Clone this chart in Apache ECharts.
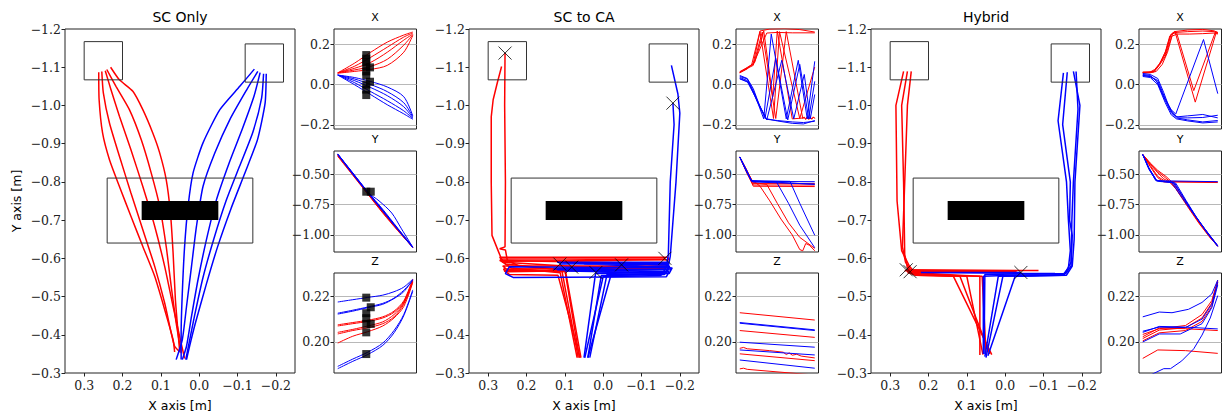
<!DOCTYPE html>
<html><head><meta charset="utf-8">
<script src="https://cdn.jsdelivr.net/npm/echarts@6/dist/echarts.min.js"></script>
<style>html,body{margin:0;padding:0;background:#fff}#c{width:1224px;height:416px}</style>
</head><body><div id="c"></div>
<script>
// ---------------- labels & ticks ----------------
const panelTitles = ['SC Only', 'SC to CA', 'Hybrid'];
const smallTitles = ['X', 'Y', 'Z'];
const xAxisName = 'X axis [m]';
const yAxisName = 'Y axis [m]';
const mainXTicks = [0.3, 0.2, 0.1, 0.0, -0.1, -0.2];
const mainYTicks = [-1.2, -1.1, -1.0, -0.9, -0.8, -0.7, -0.6, -0.5, -0.4, -0.3];
const smallXTicks = [-0.2, 0.0, 0.2];
const smallYTicks = [-1.0, -0.75, -0.5];
const smallZTicks = [0.20, 0.22];

// ---------------- scene boxes [x1,y1,x2,y2] ----------------
const outlineBoxes = [[0.3, -1.167, 0.2, -1.067], [-0.12, -1.161, -0.22, -1.061], [0.24, -0.81, -0.14, -0.64]];
const obstacleBox = [[0.15, -0.75, -0.05, -0.70]];

// ---------------- SC Only : main (x,y) ----------------
const scOnlyRed = [
  [[0.064,-0.355],[0.068,-0.387],[0.090,-0.466],[0.116,-0.553],[0.147,-0.631],[0.178,-0.710],[0.208,-0.788],[0.234,-0.858],[0.252,-0.928],[0.261,-1.015],[0.262,-1.087]],
  [[0.050,-0.355],[0.064,-0.370],[0.073,-0.405],[0.090,-0.483],[0.116,-0.579],[0.147,-0.675],[0.178,-0.771],[0.208,-0.867],[0.234,-0.954],[0.250,-1.033],[0.254,-1.089]],
  [[0.038,-0.338],[0.051,-0.396],[0.068,-0.474],[0.090,-0.579],[0.116,-0.684],[0.147,-0.788],[0.178,-0.884],[0.208,-0.972],[0.230,-1.041],[0.245,-1.091]],
  [[0.047,-0.352],[0.060,-0.431],[0.073,-0.527],[0.086,-0.631],[0.103,-0.736],[0.125,-0.823],[0.151,-0.910],[0.182,-0.989],[0.217,-1.050],[0.241,-1.094]],
  [[0.051,-0.358],[0.055,-0.405],[0.062,-0.492],[0.068,-0.614],[0.075,-0.719],[0.086,-0.806],[0.103,-0.876],[0.121,-0.928],[0.147,-0.989],[0.173,-1.037],[0.208,-1.067],[0.231,-1.100]]
];
const scOnlyBlue = [
  [[0.047,-0.335],[0.047,-0.405],[0.044,-0.509],[0.038,-0.631],[0.029,-0.736],[0.016,-0.823],[-0.010,-0.902],[-0.054,-0.989],[-0.106,-1.050],[-0.144,-1.095]],
  [[0.060,-0.335],[0.044,-0.387],[0.033,-0.474],[0.020,-0.579],[0.007,-0.684],[-0.010,-0.788],[-0.041,-0.876],[-0.080,-0.963],[-0.124,-1.041],[-0.153,-1.089]],
  [[0.044,-0.335],[0.033,-0.370],[0.020,-0.448],[0.003,-0.544],[-0.019,-0.649],[-0.045,-0.753],[-0.078,-0.849],[-0.112,-0.937],[-0.143,-1.024],[-0.159,-1.086]],
  [[0.035,-0.335],[0.030,-0.360],[0.012,-0.450],[-0.010,-0.550],[-0.038,-0.650],[-0.070,-0.750],[-0.105,-0.840],[-0.140,-0.930],[-0.163,-1.020],[-0.168,-1.083]],
  [[0.033,-0.335],[0.025,-0.370],[0.010,-0.430],[-0.018,-0.530],[-0.048,-0.630],[-0.083,-0.730],[-0.118,-0.820],[-0.152,-0.910],[-0.172,-1.006],[-0.175,-1.083]]
];
// SC Only : small panels [t, value]
const scOnlyXRed = [
  [[0,0.058],[22,0.105],[44,0.160],[66,0.210],[88,0.245],[100,0.260]],
  [[0,0.058],[22,0.090],[44,0.135],[66,0.185],[88,0.235],[100,0.255]],
  [[0,0.058],[22,0.080],[44,0.110],[66,0.160],[88,0.220],[100,0.250]],
  [[0,0.058],[22,0.072],[44,0.090],[66,0.125],[88,0.195],[100,0.247]],
  [[0,0.056],[22,0.065],[44,0.075],[66,0.095],[88,0.160],[100,0.243]]
];
const scOnlyXBlue = [
  [[0,0.047],[22,0.000],[44,-0.050],[66,-0.100],[88,-0.145],[100,-0.172]],
  [[0,0.047],[22,0.010],[44,-0.035],[66,-0.080],[88,-0.130],[100,-0.168]],
  [[0,0.047],[22,0.020],[44,-0.015],[66,-0.055],[88,-0.110],[100,-0.165]],
  [[0,0.047],[22,0.028],[44,0.000],[66,-0.035],[88,-0.090],[100,-0.160]],
  [[0,0.047],[22,0.035],[44,0.015],[66,-0.012],[88,-0.060],[100,-0.155]]
];
const scOnlyYRed = [
  [[0,-0.345],[20,-0.500],[40,-0.655],[60,-0.805],[80,-0.955],[100,-1.100]],
  [[0,-0.350],[20,-0.505],[40,-0.660],[60,-0.815],[80,-0.960],[100,-1.105]],
  [[0,-0.340],[20,-0.495],[40,-0.650],[60,-0.800],[80,-0.950],[100,-1.100]],
  [[0,-0.355],[20,-0.510],[40,-0.665],[60,-0.820],[80,-0.965],[100,-1.100]],
  [[0,-0.345],[20,-0.500],[40,-0.660],[60,-0.810],[80,-0.960],[100,-1.100]]
];
const scOnlyYBlue = [
  [[0,-0.335],[20,-0.490],[40,-0.645],[60,-0.790],[80,-0.945],[100,-1.100]],
  [[0,-0.340],[20,-0.500],[40,-0.650],[55,-0.720],[72,-0.820],[85,-0.950],[100,-1.100]],
  [[0,-0.335],[20,-0.495],[40,-0.650],[60,-0.800],[80,-0.955],[100,-1.105]],
  [[0,-0.340],[20,-0.500],[40,-0.655],[60,-0.805],[80,-0.955],[100,-1.100]],
  [[0,-0.338],[20,-0.492],[40,-0.648],[60,-0.798],[80,-0.950],[100,-1.098]]
];
const scOnlyZRed = [
  [[0,0.2075],[20,0.2085],[40,0.2095],[60,0.2110],[75,0.2135],[88,0.2180],[100,0.2275]],
  [[0,0.2070],[20,0.2080],[40,0.2090],[60,0.2105],[75,0.2130],[88,0.2175],[100,0.2272]],
  [[0,0.2042],[20,0.2055],[40,0.2070],[60,0.2088],[75,0.2120],[88,0.2170],[100,0.2268]],
  [[0,0.2035],[20,0.2050],[40,0.2062],[60,0.2080],[75,0.2110],[88,0.2165],[100,0.2265]],
  [[0,0.1995],[20,0.2025],[40,0.2045],[60,0.2070],[75,0.2105],[88,0.2155],[100,0.2260]]
];
const scOnlyZBlue = [
  [[0,0.2175],[20,0.2185],[40,0.2195],[60,0.2205],[75,0.2220],[88,0.2240],[100,0.2275]],
  [[0,0.2122],[20,0.2135],[40,0.2150],[60,0.2165],[75,0.2190],[88,0.2220],[100,0.2272]],
  [[0,0.2126],[20,0.2139],[40,0.2153],[60,0.2169],[75,0.2192],[88,0.2226],[100,0.2270]],
  [[0,0.1893],[20,0.1925],[40,0.1955],[60,0.1995],[75,0.2050],[88,0.2120],[100,0.2228]],
  [[0,0.1883],[20,0.1915],[40,0.1945],[60,0.1985],[75,0.2040],[88,0.2115],[100,0.2222]]
];
const scOnlyXMarks = [[38,0.146],[38,0.128],[38,0.110],[38,0.090],[43,0.085],[38,0.065],[38,0.045],[43,0.014],[38,0.000],[38,-0.025],[38,-0.052]];
const scOnlyYMarks = [[38,-0.645],[44,-0.645]];
const scOnlyZMarks = [[38,0.2194],[44,0.2152],[38,0.2126],[38,0.2104],[44,0.2079],[38,0.2079],[38,0.2042],[38,0.1947]];

// ---------------- SC to CA ----------------
const scToCaRed = [
  [[0.068,-0.340],[0.112,-0.562],[0.240,-0.575],[0.262,-0.590],[0.272,-0.615],[0.290,-0.660],[0.292,-0.800],[0.292,-0.970],[0.287,-1.015],[0.276,-1.060],[0.265,-1.102]],
  [[0.062,-0.340],[0.100,-0.570],[0.220,-0.580],[0.250,-0.595],[0.255,-0.622],[0.270,-0.625],[0.256,-0.630],[0.255,-0.800],[0.257,-1.000],[0.256,-1.137]],
  [[0.058,-0.340],[0.098,-0.565],[0.250,-0.570],[0.262,-0.580],[-0.165,-0.580],[-0.170,-0.572],[0.255,-0.565],[0.260,-0.572],[-0.160,-0.575],[0.082,-0.577]],
  [[0.065,-0.340],[0.108,-0.570],[0.255,-0.585],[0.270,-0.603],[-0.168,-0.603],[-0.172,-0.596],[0.260,-0.592],[0.268,-0.598],[-0.160,-0.598],[-0.165,-0.594],[-0.158,-0.600],[-0.161,-0.600]],
  [[0.060,-0.340],[0.118,-0.556],[0.245,-0.558],[0.258,-0.568],[-0.060,-0.570],[0.262,-0.590],[0.270,-0.595],[0.130,-0.592],[-0.165,-0.587],[-0.165,-0.585]]
];
const scToCaBlue = [
  [[0.048,-0.340],[0.000,-0.552],[-0.150,-0.555],[-0.168,-0.570],[-0.175,-0.605],[-0.190,-0.800],[-0.200,-0.980],[-0.195,-1.030],[-0.178,-1.105]],
  [[0.040,-0.340],[-0.020,-0.555],[-0.155,-0.560],[-0.165,-0.580],[-0.170,-0.610],[-0.175,-0.800],[-0.185,-0.950],[-0.182,-1.006]],
  [[0.050,-0.340],[0.020,-0.560],[-0.165,-0.563],[-0.172,-0.575],[0.245,-0.578],[0.255,-0.560],[0.235,-0.550],[-0.165,-0.552],[-0.172,-0.565],[0.120,-0.570],[-0.168,-0.580],[-0.170,-0.588],[0.113,-0.585]],
  [[0.040,-0.340],[0.005,-0.555],[-0.160,-0.558],[-0.168,-0.570],[0.130,-0.572],[-0.172,-0.580],[-0.176,-0.570],[0.100,-0.567],[-0.168,-0.562],[0.019,-0.563]],
  [[0.035,-0.340],[-0.010,-0.558],[-0.172,-0.560],[-0.180,-0.575],[0.120,-0.590],[-0.170,-0.590],[0.050,-0.585],[-0.170,-0.584],[-0.048,-0.583]]
];
const scToCaCrosses = [[0.256,-1.137],[-0.182,-1.006],[0.113,-0.585],[0.082,-0.577],[0.019,-0.563],[-0.048,-0.583],[-0.161,-0.600]];
const scToCaXRed = [
  [[0,0.060],[8,0.075],[16,0.100],[27,0.265],[40,0.275],[60,0.277],[80,0.272],[100,0.260]],
  [[0,0.062],[10,0.085],[18,0.100],[36,0.255],[50,0.258],[70,0.256],[100,0.256]],
  [[0,0.058],[10,0.078],[18,0.105],[27,0.262],[45,-0.168],[53,0.262],[80,-0.168],[100,0.087]],
  [[0,0.064],[10,0.082],[20,0.110],[32,0.265],[44,-0.060],[50,0.265],[70,-0.170],[86,-0.165],[88,-0.172],[90,-0.160],[92,-0.172],[94,-0.160],[96,-0.172],[98,-0.160],[100,-0.168]],
  [[0,0.060],[10,0.080],[18,0.095],[30,0.260],[48,-0.168],[62,0.262],[84,-0.168],[86,-0.160],[88,-0.172],[90,-0.160],[92,-0.172],[94,-0.162],[96,-0.170],[98,-0.162],[100,-0.166]]
];
const scToCaXBlue = [
  [[0,0.045],[10,0.030],[18,-0.020],[26,-0.100],[34,-0.168],[50,-0.180],[70,-0.192],[85,-0.195],[100,-0.178]],
  [[0,0.040],[10,0.028],[18,-0.030],[28,-0.120],[36,-0.172],[50,-0.178],[70,-0.185],[85,-0.188],[100,-0.182]],
  [[0,0.035],[10,0.020],[20,-0.050],[32,-0.170],[42,0.250],[62,-0.170],[78,0.120],[90,-0.170],[100,0.115]],
  [[0,0.030],[10,0.015],[22,-0.070],[34,-0.160],[48,0.130],[64,-0.175],[80,0.100],[92,-0.170],[100,0.016]],
  [[0,0.028],[12,0.010],[24,-0.090],[36,-0.175],[56,0.120],[72,-0.170],[86,0.050],[94,-0.170],[100,-0.049]]
];
const scToCaYRed = [
  [[0,-0.360],[8,-0.450],[16,-0.550],[22,-0.575],[27,-0.600],[40,-0.720],[55,-0.870],[70,-1.000],[80,-1.120],[84,-1.130],[88,-1.070],[93,-1.085],[100,-1.130]],
  [[0,-0.360],[10,-0.480],[18,-0.570],[36,-0.585],[50,-0.740],[65,-0.900],[80,-1.020],[100,-1.110]],
  [[0,-0.360],[10,-0.500],[17,-0.577],[100,-0.577]],
  [[0,-0.360],[12,-0.520],[18,-0.600],[100,-0.603]],
  [[0,-0.360],[11,-0.500],[18,-0.590],[100,-0.590]]
];
const scToCaYBlue = [
  [[0,-0.360],[10,-0.480],[16,-0.560],[49,-0.565],[65,-0.740],[80,-0.920],[100,-1.105]],
  [[0,-0.360],[10,-0.490],[16,-0.555],[67,-0.560],[80,-0.740],[100,-1.003]],
  [[0,-0.360],[9,-0.470],[15,-0.555],[100,-0.585]],
  [[0,-0.360],[9,-0.480],[16,-0.560],[100,-0.563]],
  [[0,-0.360],[10,-0.490],[17,-0.565],[100,-0.583]]
];
const scToCaZRed = [
  [[0,0.2128],[100,0.2096]],
  [[0,0.2050],[100,0.2020]],
  [[0,0.1972],[5,0.1976],[10,0.1970],[40,0.1962],[58,0.1955],[62,0.1945],[66,0.1952],[70,0.1942],[76,0.1946],[82,0.1938],[100,0.1930]],
  [[0,0.1948],[100,0.1918]],
  [[0,0.1882],[5,0.1885],[10,0.1880],[100,0.1855]]
];
const scToCaZBlue = [
  [[0,0.2085],[100,0.2053]],
  [[0,0.2082],[100,0.2050]],
  [[0,0.1999],[100,0.1977]],
  [[0,0.1965],[100,0.1943]],
  [[0,0.1921],[100,0.1885]]
];

// ---------------- Hybrid ----------------
const hybridRed = [
  [[0.066,-0.347],[0.066,-0.553],[0.120,-0.556],[0.235,-0.562],[0.262,-0.568],[-0.087,-0.568],[0.258,-0.570]],
  [[0.035,-0.348],[0.135,-0.553],[0.235,-0.556],[0.255,-0.575],[0.262,-0.610],[0.265,-0.800],[0.270,-1.000],[0.255,-1.089]],
  [[0.050,-0.350],[0.060,-0.553],[0.230,-0.556],[0.250,-0.580],[0.270,-0.620],[0.282,-0.750],[0.285,-1.000],[0.265,-1.089]],
  [[0.058,-0.348],[0.100,-0.553],[0.240,-0.560],[0.260,-0.590],[0.268,-0.630],[0.262,-0.800],[0.255,-1.000],[0.245,-1.089]],
  [[0.040,-0.350],[0.118,-0.553],[0.240,-0.558],[0.255,-0.563],[-0.030,-0.565],[0.248,-0.565]]
];
const hybridBlue = [
  [[0.057,-0.350],[0.057,-0.553],[-0.130,-0.560],[0.220,-0.563],[-0.041,-0.563]],
  [[0.053,-0.343],[0.018,-0.553],[-0.150,-0.556],[-0.165,-0.575],[-0.170,-0.620],[-0.165,-0.700],[-0.160,-0.800],[-0.138,-0.960],[-0.152,-1.085]],
  [[0.050,-0.340],[0.006,-0.553],[-0.155,-0.558],[-0.172,-0.590],[-0.175,-0.660],[-0.168,-0.700],[-0.170,-0.800],[-0.150,-0.950],[-0.162,-1.087]],
  [[0.045,-0.345],[-0.026,-0.553],[-0.160,-0.556],[-0.175,-0.580],[-0.180,-0.650],[-0.182,-0.800],[-0.195,-1.000],[-0.178,-1.089]],
  [[0.055,-0.350],[0.053,-0.558],[-0.158,-0.560],[-0.172,-0.580],[-0.174,-0.700],[-0.178,-0.800],[-0.190,-0.990],[-0.185,-1.089]]
];
const hybridCrosses = [[0.258,-0.570],[0.248,-0.565],[-0.041,-0.563]];
const hybridXRed = [
  [[0,0.060],[8,0.062],[15,0.065],[22,0.100],[30,0.150],[38,0.250],[43,0.262],[70,-0.087],[98,0.258],[100,0.258]],
  [[0,0.060],[10,0.060],[16,0.070],[22,0.100],[30,0.160],[36,0.240],[42,0.262],[60,0.270],[80,0.273],[95,0.266],[100,0.258]],
  [[0,0.062],[10,0.062],[16,0.075],[24,0.110],[31,0.170],[37,0.245],[44,0.258],[60,0.262],[80,0.265],[95,0.262],[100,0.252]],
  [[0,0.058],[10,0.058],[18,0.065],[26,0.100],[33,0.160],[39,0.240],[46,0.250],[62,0.250],[80,0.252],[95,0.255],[100,0.250]],
  [[0,0.058],[8,0.060],[15,0.063],[22,0.095],[30,0.140],[40,0.255],[45,0.258],[68,-0.030],[97,0.262],[100,0.255]]
];
const hybridXBlue = [
  [[0,0.045],[10,0.040],[18,0.020],[28,-0.060],[38,-0.125],[44,-0.146],[81,0.223],[100,-0.045]],
  [[0,0.050],[10,0.045],[20,0.010],[30,-0.080],[38,-0.140],[45,-0.165],[60,-0.175],[80,-0.185],[100,-0.178]],
  [[0,0.040],[10,0.035],[20,0.000],[30,-0.090],[38,-0.150],[45,-0.170],[60,-0.180],[80,-0.190],[100,-0.185]],
  [[0,0.055],[10,0.050],[20,0.030],[28,-0.040],[36,-0.120],[45,-0.160],[60,-0.155],[80,-0.148],[100,-0.165]],
  [[0,0.045],[10,0.040],[20,0.020],[30,-0.070],[40,-0.145],[48,-0.165],[60,-0.165],[80,-0.163],[100,-0.152]]
];
const hybridYRed = [
  [[0,-0.340],[10,-0.440],[20,-0.530],[28,-0.565],[100,-0.570]],
  [[0,-0.340],[10,-0.410],[20,-0.470],[31,-0.520],[38,-0.560],[45,-0.610],[60,-0.750],[75,-0.890],[90,-1.010],[100,-1.090]],
  [[0,-0.340],[10,-0.415],[20,-0.480],[30,-0.530],[36,-0.560],[42,-0.600],[60,-0.760],[75,-0.900],[90,-1.020],[100,-1.095]],
  [[0,-0.340],[10,-0.420],[20,-0.490],[28,-0.540],[35,-0.562],[44,-0.620],[60,-0.770],[75,-0.905],[90,-1.025],[100,-1.090]],
  [[0,-0.340],[10,-0.430],[20,-0.520],[30,-0.560],[100,-0.565]]
];
const hybridYBlue = [
  [[0,-0.340],[8,-0.450],[18,-0.555],[100,-0.563]],
  [[0,-0.340],[8,-0.450],[18,-0.550],[24,-0.560],[40,-0.565],[55,-0.700],[70,-0.840],[85,-0.970],[100,-1.090]],
  [[0,-0.340],[8,-0.460],[18,-0.555],[24,-0.562],[42,-0.570],[56,-0.710],[70,-0.845],[85,-0.975],[100,-1.092]],
  [[0,-0.340],[9,-0.460],[19,-0.556],[26,-0.560],[44,-0.575],[58,-0.720],[72,-0.860],[86,-0.985],[100,-1.095]],
  [[0,-0.340],[8,-0.450],[17,-0.550],[25,-0.558],[38,-0.565],[52,-0.690],[68,-0.830],[84,-0.960],[100,-1.088]]
];
const hybridZRed = [
  [[0,0.2023],[22,0.2061],[57,0.2058],[100,0.2050]],
  [[0,0.2033],[22,0.2058],[57,0.2072],[79,0.2120],[92,0.2181],[100,0.2271]],
  [[0,0.2015],[22,0.2052],[57,0.2062],[79,0.2105],[92,0.2170],[100,0.2265]],
  [[0,0.2005],[22,0.2040],[57,0.2050],[79,0.2090],[92,0.2155],[100,0.2260]],
  [[0,0.1928],[20,0.1965],[57,0.1962],[100,0.1950]]
];
const hybridZBlue = [
  [[0,0.2042],[22,0.2068],[57,0.2065],[100,0.2057]],
  [[0,0.2110],[22,0.2131],[39,0.2128],[61,0.2143],[79,0.2173],[92,0.2210],[100,0.2271]],
  [[0,0.2047],[22,0.2065],[57,0.2063],[79,0.2100],[92,0.2165],[100,0.2262]],
  [[0,0.2000],[22,0.2035],[50,0.2035],[79,0.2080],[92,0.2150],[100,0.2250]],
  [[0,0.1835],[10,0.1855],[28,0.1883],[37,0.1883],[52,0.1917],[68,0.1970],[79,0.2030],[90,0.2105],[100,0.2203]]
];

// ---------------- build ----------------
const RED = '#ff0000', BLUE = '#0000ff', INK = '#222';
const tickFont = 'DejaVu Serif';
const textFont = 'DejaVu Sans';
function fmt(d) { return v => (v < -1e-9 ? '\u2212' : '') + Math.abs(v).toFixed(d); }

const option = { animation: false, backgroundColor: '#fff', grid: [], xAxis: [], yAxis: [], series: [], graphic: [] };

function addGrid(left, top, width, height) {
  option.grid.push({ left, top, width, height, show: true, borderColor: INK, borderWidth: 1 });
  return option.grid.length - 1;
}
function tickAxis(gi, min, max, ticks, dec, inverse, split, margin) {
  return {
    type: 'value', gridIndex: gi, min, max, inverse: !!inverse,
    axisLine: { show: false, onZero: false },
    axisTick: { show: true, inside: false, length: 3.5, customValues: ticks, lineStyle: { color: INK, width: 1 } },
    axisLabel: { customValues: ticks, formatter: fmt(dec), fontFamily: tickFont, fontSize: 12.5, color: INK, margin: margin || 4 },
    splitLine: { show: !!split, lineStyle: { color: '#b8b8b8', width: 1 } }
  };
}
function addLines(trajs, color, gi, width, smooth) {
  trajs.forEach(d => option.series.push({
    type: 'line', xAxisIndex: gi, yAxisIndex: gi, data: d, showSymbol: false, symbol: 'none',
    smooth: smooth || false, lineStyle: { color, width }, itemStyle: { color }, z: 2, silent: true
  }));
}
function addRects(rects, gi, filled) {
  option.series.push({
    type: 'custom', xAxisIndex: gi, yAxisIndex: gi, data: rects, z: 5, silent: true,
    renderItem: (p, api) => {
      const a = api.coord([api.value(0), api.value(1)]);
      const b = api.coord([api.value(2), api.value(3)]);
      return { type: 'rect', shape: { x: Math.min(a[0], b[0]), y: Math.min(a[1], b[1]), width: Math.abs(a[0] - b[0]), height: Math.abs(a[1] - b[1]) },
        style: filled ? { fill: '#000' } : { fill: 'none', stroke: '#333', lineWidth: 1 } };
    }
  });
}
function addMarks(pts, gi, kind) {
  const cross = kind === 'cross';
  option.series.push({
    type: 'scatter', xAxisIndex: gi, yAxisIndex: gi, data: pts, z: 6, silent: true,
    symbol: cross ? 'path://M0,0L10,10M10,0L0,10' : 'rect', symbolSize: cross ? 13 : 8,
    itemStyle: cross ? { color: 'none', borderColor: '#000', borderWidth: 1 } : { color: '#000' }
  });
}
function text(x, y, str, size, rot) {
  option.graphic.push({ type: 'text', x, y, rotation: rot || 0, silent: true,
    style: { text: str, font: size + 'px "' + textFont + '"', fill: '#000', align: 'center', verticalAlign: 'middle', textAlign: 'center', textVerticalAlign: 'middle' } });
}

const cols = [{ main: 65, small: 334 }, { main: 469, small: 736 }, { main: 871, small: 1139 }];
const mainData = [
  { red: scOnlyRed, blue: scOnlyBlue, smooth: 0.2, crosses: null },
  { red: scToCaRed, blue: scToCaBlue, smooth: false, crosses: scToCaCrosses },
  { red: hybridRed, blue: hybridBlue, smooth: false, crosses: hybridCrosses }
];
const smallData = [
  [[scOnlyXRed, scOnlyXBlue, scOnlyXMarks], [scOnlyYRed, scOnlyYBlue, scOnlyYMarks], [scOnlyZRed, scOnlyZBlue, scOnlyZMarks]],
  [[scToCaXRed, scToCaXBlue, null], [scToCaYRed, scToCaYBlue, null], [scToCaZRed, scToCaZBlue, null]],
  [[hybridXRed, hybridXBlue, null], [hybridYRed, hybridYBlue, null], [hybridZRed, hybridZBlue, null]]
];
const smallTops = [29, 151, 273], smallH = [100, 101, 100];
const smallRanges = [[-0.22, 0.275, smallXTicks, 1], [-1.14, -0.311, smallYTicks, 2], [0.1864, 0.2302, smallZTicks, 2]];

cols.forEach((c, ci) => {
  const g = addGrid(c.main, 29, 230, 344);
  option.xAxis.push(tickAxis(g, -0.25, 0.35, mainXTicks, 1, true, false, 6));
  option.yAxis.push(tickAxis(g, -1.2, -0.3, mainYTicks, 1, true, false, 4));
  const md = mainData[ci];
  addLines(md.red, RED, g, 1.5, md.smooth);
  addLines(md.blue, BLUE, g, 1.5, md.smooth);
  addRects(outlineBoxes, g, false);
  addRects(obstacleBox, g, true);
  if (md.crosses) addMarks(md.crosses, g, 'cross');
  text(c.main + 115, 17, panelTitles[ci], 14);
  text(c.main + 115, 405, xAxisName, 12.5);

  for (let k = 0; k < 3; k++) {
    const sg = addGrid(c.small, smallTops[k], 82.5, smallH[k]);
    option.xAxis.push({ type: 'value', gridIndex: sg, min: -5, max: 105, show: false, axisLine: { onZero: false } });
    const r = smallRanges[k];
    option.yAxis.push(tickAxis(sg, r[0], r[1], r[2], r[3], false, true, 4));
    const sd = smallData[ci][k];
    addLines(sd[0], RED, sg, 1, ci === 0 ? 0.3 : false);
    addLines(sd[1], BLUE, sg, 1, ci === 0 ? 0.3 : false);
    if (sd[2]) addMarks(sd[2], sg, 'rect');
    text(c.small + 41, smallTops[k] - 12, smallTitles[k], 11);
  }
});
text(16, 201, yAxisName, 12.5, Math.PI / 2);

const chart = echarts.init(document.getElementById('c'), null, { renderer: 'svg', width: 1224, height: 416 });
chart.setOption(option);
</script></body></html>
